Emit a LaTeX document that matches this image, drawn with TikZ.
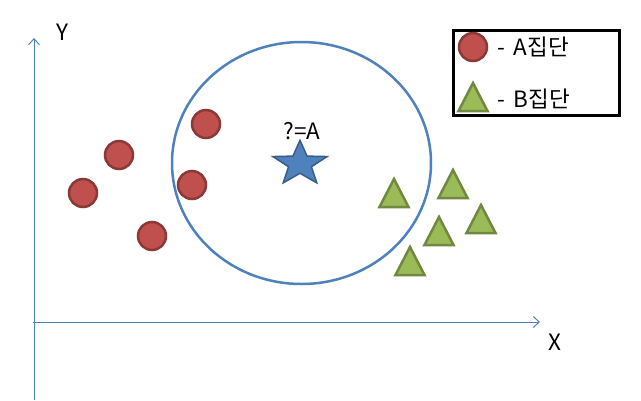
\documentclass[tikz,border=0pt]{standalone}
\usepackage{fontspec}
\setmainfont{Noto Sans CJK KR}
\usetikzlibrary{arrows.meta}
\definecolor{axisblue}{HTML}{4F81BD}
\definecolor{starline}{HTML}{385D8A}
\definecolor{redfill}{HTML}{C0504D}
\definecolor{redline}{HTML}{8C3836}
\definecolor{greenfill}{HTML}{9BBB59}
\definecolor{greenline}{HTML}{71893F}
\tikzset{
  axisline/.style={draw=axisblue, line width=1pt, -{Straight Barb[length=6pt,width=11pt,line width=1pt]}},
  reddot/.style={circle, fill=redfill, draw=redline, line width=2.5pt, minimum size=28pt, inner sep=0pt},
  greentri/.style={fill=greenfill, draw=greenline, line width=2.5pt, line join=miter},
  lbl/.style={font=\fontsize{22.5}{25}\selectfont, inner sep=0pt, text=black},
}
\newcommand{\tri}[2]{\draw[greentri] (#1-14.5,#2) -- (#1,#2-28) -- (#1+14.5,#2) -- cycle;}
\begin{document}
\begin{tikzpicture}[x=1pt,y=-1pt]
\useasboundingbox[fill=white] (0,0) rectangle (641,400);
% axes
\coordinate (yb) at (34,400);
\coordinate (yt) at (34,38);
\coordinate (xl) at (33,322);
\coordinate (xr) at (540,322);
\draw[axisline] (yb) -- (yt);
\draw[axisline] (xl) -- (xr);
\node[lbl] (ylab) at (62,32) {Y};
\node[lbl] (xlab) at (555,342) {X};
% big circle
\draw[axisblue, line width=2.5pt] (301.5,163) ellipse [x radius=129.5, y radius=121];
% star
\draw[fill=axisblue, draw=starline, line width=1.5pt, line join=miter]
  plot[samples at={0,...,9}] ({300+(mod(\x,2)==0 ? 28.5 : 12)*cos(90+36*\x)}, {163.8-(mod(\x,2)==0 ? 23.5 : 9.5)*sin(90+36*\x)}) -- cycle;
\node[lbl] (q) at (302,131) {?=A};
% red points
\node[reddot] (r1) at (206,124) {};
\node[reddot] (r2) at (119,155) {};
\node[reddot] (r3) at (83,193) {};
\node[reddot] (r4) at (192,185) {};
\node[reddot] (r5) at (152,236) {};
% green triangles
\tri{394}{207}
\tri{453}{198}
\tri{481}{233}
\tri{439}{245}
\tri{410}{275}
% legend
\draw[line width=3pt, black] (453,30) rectangle (619,115);
\node[reddot] (lr) at (473,47) {};
\tri{473}{111}
\node[lbl, anchor=west] (la) at (497,47) {-\hspace{0.4em}A집단};
\node[lbl, anchor=west] (lb) at (497,99) {-\hspace{0.4em}B집단};
\end{tikzpicture}
\end{document}
